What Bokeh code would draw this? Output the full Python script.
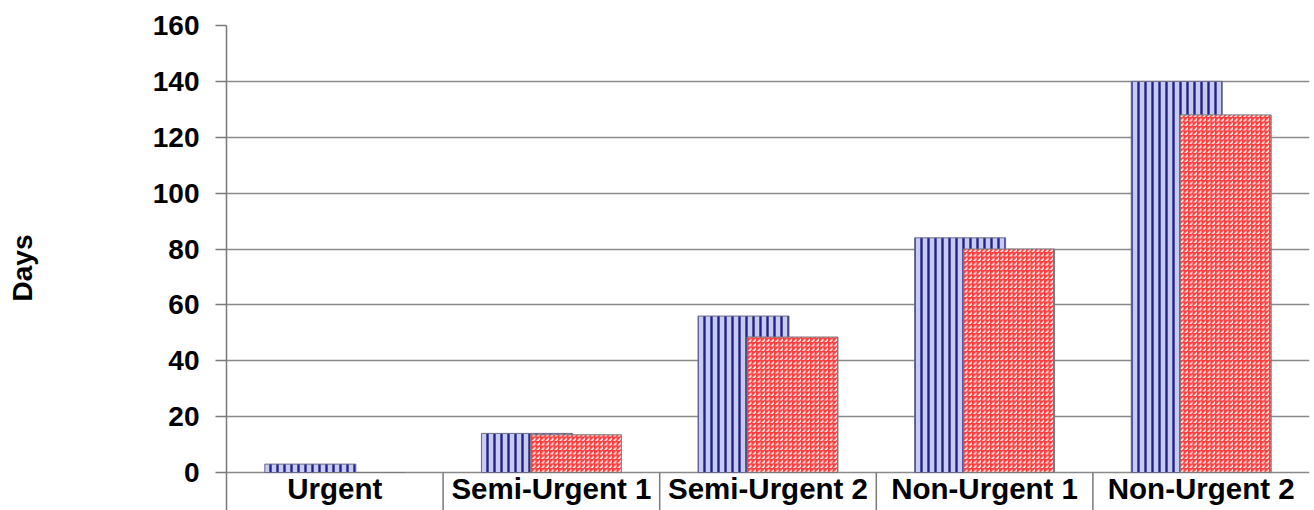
from bokeh.plotting import figure
from bokeh.models import Range1d, FixedTicker, ColumnDataSource
from bokeh.core.properties import value
from bokeh.embed import file_html
from bokeh.resources import INLINE

# ---- data ----
categories = ["Urgent", "Semi-Urgent 1", "Semi-Urgent 2", "Non-Urgent 1", "Non-Urgent 2"]
series_a = [3, 14, 56, 84, 140]
series_b = [0, 13.5, 48.5, 80, 128]
y_ticks = [0, 20, 40, 60, 80, 100, 120, 140, 160]
y_label = "Days"

FONT = "Liberation Sans"
GRID = "#8a8a8a"
AXIS = "#7a7a7a"

n = len(categories)
idx = list(range(n))
offset = 0.113
bar_w = 0.42
y_low = -13.6
label_y = -5.8

p = figure(width=1314, height=510, output_backend="svg", toolbar_location=None,
           x_range=Range1d(0, n), y_range=Range1d(y_low, 160),
           x_axis_location=None, min_border_top=25, min_border_bottom=0,
           min_border_right=5, min_border_left=226)
p.outline_line_color = None
p.background_fill_color = "white"

# grid
p.xgrid.visible = False
p.ygrid.ticker = FixedTicker(ticks=y_ticks)
p.ygrid.grid_line_color = GRID
p.ygrid.grid_line_width = 1.5

# y axis
ax = p.yaxis[0]
ax.ticker = FixedTicker(ticks=y_ticks)
ax.major_tick_out = 11
ax.major_tick_in = 0
ax.minor_tick_line_color = None
ax.axis_line_color = AXIS
ax.axis_line_width = 1.5
ax.major_tick_line_color = AXIS
ax.major_tick_line_width = 1.5
ax.major_label_text_font = FONT
ax.major_label_text_font_style = "bold"
ax.major_label_text_font_size = "28px"
ax.major_label_text_color = "black"
ax.major_label_standoff = 16
ax.axis_label = y_label
ax.axis_label_text_font = FONT
ax.axis_label_text_font_style = "bold"
ax.axis_label_text_font_size = "28px"
ax.axis_label_text_color = "black"
ax.axis_label_standoff = 112

# bars
src_a = ColumnDataSource(dict(x=[i + 0.5 - offset for i in idx], top=series_a))
src_b = ColumnDataSource(dict(x=[i + 0.5 + offset for i in idx], top=series_b))
p.vbar(x="x", top="top", bottom=0, width=bar_w, source=src_a,
       fill_color="#c8cbf0", line_color="#6a6a8a", line_width=1,
       hatch_pattern="vertical_line", hatch_color="#22228c",
       hatch_scale=7, hatch_weight=2.4)
p.vbar(x="x", top="top", bottom=0, width=bar_w, source=src_b,
       fill_color="#ff4040", line_color="#7a7a7a", line_width=1,
       hatch_pattern="right_diagonal_dash", hatch_color="white",
       hatch_scale=4.5, hatch_weight=1.6, hatch_alpha=0.95)

# category separators below the axis
bounds = [i for i in range(1, n)]
p.segment(x0=bounds, y0=[0] * len(bounds), x1=bounds, y1=[y_low] * len(bounds),
          line_color=AXIS, line_width=1.5)

# category labels
p.text(x=[i + 0.5 for i in idx], y=[label_y] * n, text=categories,
       text_font=value(FONT), text_font_style="bold", text_font_size="29.5px",
       text_align="center", text_baseline="alphabetic", text_color="black")

open("out.html", "w").write(file_html(p, INLINE))
